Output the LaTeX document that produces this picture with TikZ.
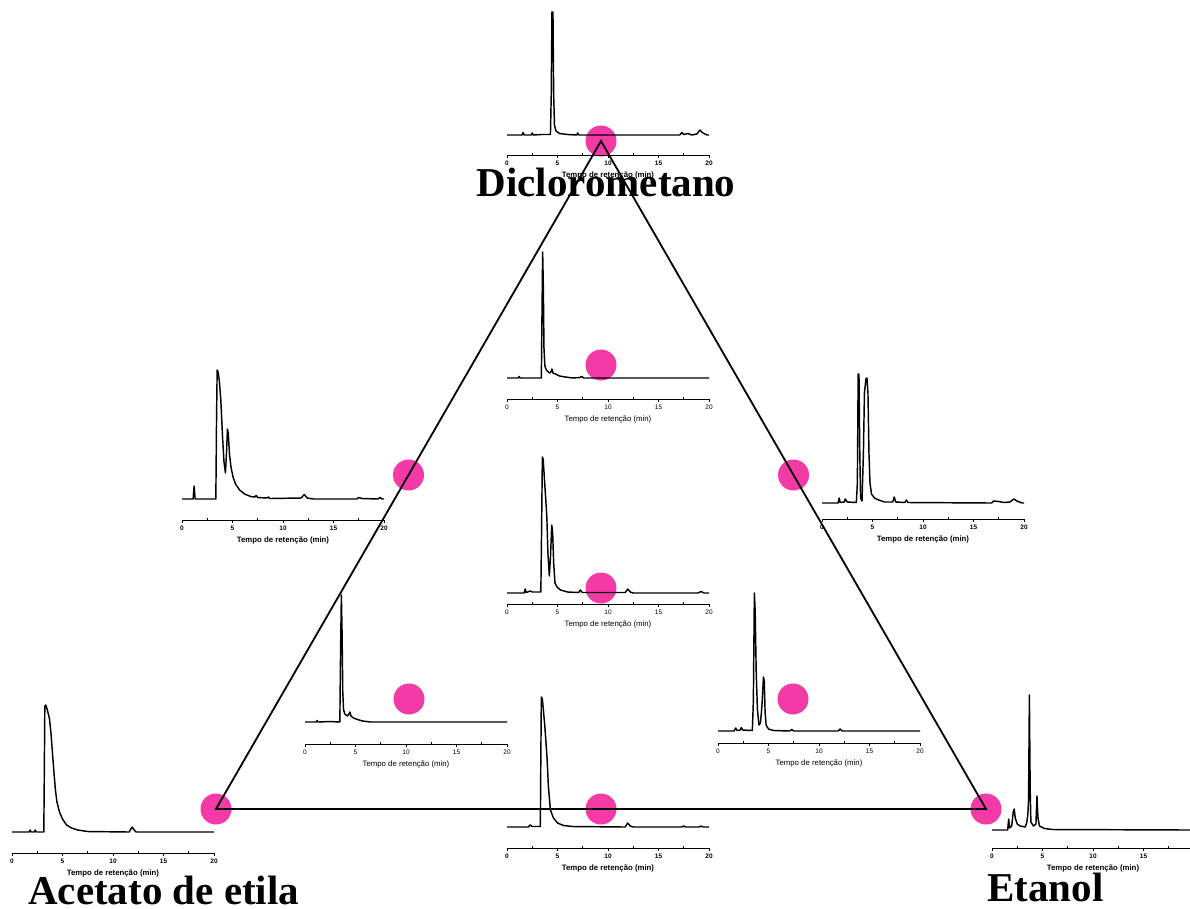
\documentclass[tikz,border=0pt]{standalone}
\usepackage{fontspec}
\setmainfont{Liberation Serif}
\setsansfont{Liberation Sans}
\usepackage{xcolor}
\usepackage{tikz}

\definecolor{rosa}{RGB}{244,58,166}

\tikzset{
  eixo/.style={line width=0.9pt},
  sinal/.style={line width=1.45pt,line join=round},
  triangulo/.style={line width=1.8pt,line join=miter},
  ponto/.style={circle,fill=rosa,inner sep=0pt,minimum size=31pt},
  solvente/.style={inner sep=0pt,font=\bfseries\fontsize{41}{45}\selectfont}
}

% #1 nome, #2 x do zero, #3 y do eixo, #4 eixo ate linha de base, #5 peso da fonte, #6 pontos (min, altura), #7 marcas com numero
\newcommand{\cromatograma}[7]{%
  \begin{scope}[shift={(#2,#3)},xscale=10.1,yscale=-1]
    \draw[eixo] (0,0) -- (20,0);
    \foreach \tm in {#7}
      \draw[eixo] (\tm,0) -- (\tm,-2.5) (\tm,-8) node[inner sep=0pt,font=\sffamily#5\fontsize{6.5}{7}\selectfont] (#1t\tm) {\tm};
    \foreach \tm in {2.5,7.5,...,17.5}
      \draw[eixo] (\tm,0) -- (\tm,2);
    \node[inner sep=0.75pt,font=\sffamily#5\fontsize{7.8}{9}\selectfont] (#1) at (10,-20.5) {Tempo de retenção (min)};
    \begin{scope}[shift={(0,#4)}]
      \draw[sinal] plot coordinates {#6};
    \end{scope}
  \end{scope}}

\begin{document}
\begin{tikzpicture}[x=1pt,y=1pt,yscale=-1,xscale=1]
\useasboundingbox (0,0) rectangle (1190,908);

%Shape: Circle [pontos da mistura]
\node[ponto] (vDCM) at (601,141) {};
\node[ponto] (vAE) at (216,809) {};
\node[ponto] (vET) at (986,809) {};
\node[ponto] (mAD) at (408.5,475) {};
\node[ponto] (mDE) at (793.5,475) {};
\node[ponto] (mAE) at (601,809) {};
\node[ponto] (cSup) at (601,365) {};
\node[ponto] (cMeio) at (601,588) {};
\node[ponto] (cEsq) at (409,699) {};
\node[ponto] (cDir) at (793,699) {};

%Chromatogram: diclorometano
\cromatograma{tDCM}{507}{155}{20}{\bfseries}{(0,0) (1.5,0) (1.6,2.5) (1.7,0) (2.4,0) (2.5,2) (2.6,0) (3.4,0.5) (4.3,0.5) (4.38,40) (4.45,123) (4.55,123) (4.62,40) (4.7,10) (4.85,4) (5.2,1.5) (6,0.5) (6.9,0) (7.0,2) (7.1,0) (8,0) (17.1,0) (17.3,2.5) (17.5,0.5) (17.9,1.5) (18.3,0) (18.8,1) (19.1,5) (19.4,2) (19.8,0) (20,0)}{0,5,...,20}
%Chromatogram: acetato de etila
\cromatograma{tAE}{12}{853}{21}{\bfseries}{(0,0) (1.7,0) (1.8,2) (1.9,0) (2.2,0) (2.3,2) (2.4,0) (3.15,0) (3.2,60) (3.25,126) (3.35,127) (3.5,122) (3.7,114) (3.85,100) (4.0,80) (4.15,60) (4.3,42) (4.45,30) (4.7,20) (5.0,13) (5.4,7) (5.9,4) (6.5,2) (7.5,0.5) (11.6,0) (11.8,3.5) (11.9,5) (12.1,2) (12.3,0) (20,0)}{0,5,...,20}
%Chromatogram: etanol
\cromatograma{tET}{992}{848}{18}{\bfseries}{(0,0) (1.55,0) (1.65,11) (1.75,2) (1.95,4) (2.1,18) (2.2,21) (2.3,12) (2.5,6) (2.8,4) (3.3,3) (3.45,8) (3.55,16) (3.62,30) (3.7,135) (3.78,40) (3.85,8) (4.1,4) (4.35,6) (4.45,34) (4.55,12) (4.7,4) (5.2,1.5) (6,0.5) (19.6,0)}{0,5,...,15}
%Chromatogram: lado esquerdo
\cromatograma{tAD}{182}{520}{21}{\bfseries}{(0,0) (1.1,0) (1.2,13) (1.3,0) (3.35,0) (3.42,80) (3.48,129) (3.58,127) (3.7,118) (3.85,98) (4.0,65) (4.15,38) (4.3,26) (4.4,45) (4.5,70) (4.58,66) (4.7,45) (4.85,32) (5.05,22) (5.3,15) (5.7,9) (6.2,5) (6.8,2.5) (7.2,2) (7.35,3.5) (7.5,1.5) (8.4,1) (8.55,2) (8.7,0.5) (11.8,1) (12.1,4.5) (12.4,1) (13,0) (17.3,0) (17.5,1.5) (17.8,0.5) (19.4,0) (19.6,1.5) (19.8,0) (20,0)}{0,5,...,20}
%Chromatogram: lado direito
\cromatograma{tDE}{822}{519}{16}{\bfseries}{(0,0) (1.6,0) (1.7,5) (1.8,0.5) (2.2,1) (2.3,4) (2.5,1) (3.4,0.5) (3.5,20) (3.58,129) (3.66,129) (3.74,50) (3.82,5) (3.96,2) (4.1,50) (4.2,110) (4.35,124) (4.45,125) (4.55,110) (4.65,50) (4.75,20) (4.9,9) (5.2,5) (5.6,3) (6.2,1) (7.0,1) (7.15,6) (7.3,1) (8.2,0.5) (8.35,3) (8.5,0.5) (16.8,0) (17.0,2) (17.5,1.5) (18,0.5) (18.6,1) (19,4) (19.3,2) (19.8,0) (20,0)}{0,5,...,20}
%Chromatogram: base
\cromatograma{tAEb}{507}{848}{21}{\bfseries}{(0,0) (2.1,0) (2.3,2) (2.5,0.5) (3.3,0.5) (3.35,70) (3.4,130) (3.5,128) (3.62,115) (3.75,100) (3.96,70) (4.1,40) (4.3,17) (4.6,9) (5.0,4) (5.6,1.5) (6.5,0.5) (11.7,0) (11.95,4) (12.2,1) (12.5,0) (17.3,0) (17.5,1) (17.7,0) (19,0) (19.2,1) (19.4,0) (20,0)}{0,5,...,20}
%Chromatogram: centro superior
\cromatograma{tSup}{507}{399}{21}{}{(0,0) (1.1,0) (1.2,1.5) (1.3,0) (3.4,0) (3.47,70) (3.53,126) (3.6,90) (3.66,30) (3.75,12) (3.9,8) (4.2,5) (4.35,6) (4.45,9) (4.55,5) (4.8,4) (5.2,2) (5.8,1) (6.5,0) (7.2,0.5) (7.4,1.5) (7.6,0) (20,0)}{0,5,...,20}
%Chromatogram: centro
\cromatograma{tMeio}{507}{604}{11}{}{(0,0) (1.7,0) (1.8,4) (1.9,0.5) (2.3,2) (2.5,1) (3.35,1) (3.42,60) (3.5,136) (3.58,134) (3.7,115) (3.94,77) (4.05,40) (4.19,17) (4.3,35) (4.43,68) (4.52,60) (4.62,30) (4.75,10) (4.95,6) (5.3,3) (6,1) (7.1,0.5) (7.25,3) (7.45,0.5) (11.7,0.5) (11.95,4) (12.2,1) (12.5,0) (18.9,0) (19.2,1.5) (19.5,0) (20,0)}{0,5,...,20}
%Chromatogram: interior esquerdo
\cromatograma{tEsq}{305}{744}{22}{}{(0,0) (1.1,0) (1.2,1.5) (1.3,0) (2.5,0.5) (3.45,0) (3.52,70) (3.6,127) (3.67,90) (3.74,30) (3.82,12) (3.95,8) (4.2,6) (4.35,8) (4.45,10) (4.55,6) (4.8,4) (5.2,2.5) (5.7,1) (6.5,0) (20,0)}{0,5,...,20}
%Chromatogram: interior direito
\cromatograma{tDir}{718}{743}{12}{}{(0,0) (1.6,0) (1.75,3) (1.9,0.5) (2.2,1) (2.3,3.5) (2.45,1) (3.4,0.5) (3.5,30) (3.6,138) (3.68,120) (3.78,60) (3.9,22) (4.05,6) (4.2,8) (4.35,25) (4.5,54) (4.58,50) (4.66,20) (4.76,6) (5.0,2) (5.5,0.5) (7.1,0) (7.3,1.5) (7.5,0) (11.9,0) (12.1,2) (12.3,0) (20,0)}{0,5,...,20}

%Shape: Triangle
\draw[triangulo] (vDCM.center) -- (vAE.center) -- (vET.center) -- cycle;

% Text Node
\node[solvente,anchor=base] (nDCM) at (606,196) {Diclorometano};
% Text Node
\node[solvente,anchor=base west] (nAE) at (28,904) {Acetato de etila};
% Text Node
\node[solvente,anchor=base west] (nET) at (987,901) {Etanol};

\end{tikzpicture}
\end{document}
